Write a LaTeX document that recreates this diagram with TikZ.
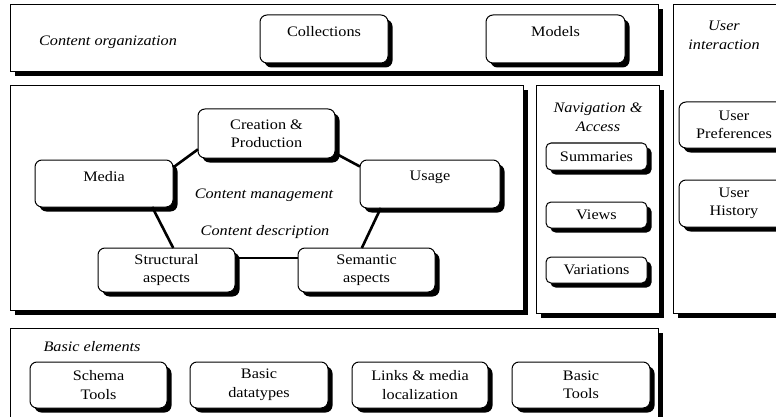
\documentclass[tikz,border=0pt]{standalone}
\usepackage{fontspec}
\setmainfont{Liberation Serif}[FakeStretch=1.12]
\usetikzlibrary{shadows}
\newcommand\dgfont{\fontsize{14.5}{18.5}\selectfont}
\newcommand\dgital{\fontsize{14.5}{19}\selectfont\itshape}
\begin{document}
\begin{tikzpicture}[x=1pt,y=-1pt,
  shad/.style={drop shadow={shadow xshift=4.5pt,shadow yshift=-4.5pt,fill=black,opacity=1}},
  panel/.style={draw,fill=white,line width=1pt,inner sep=0pt,outer sep=0pt,shad},
  rbox/.style={panel,rounded corners=7pt,align=center,font=\dgfont},
  toplbl/.style={label={[anchor=center,yshift=-17pt,font=\dgfont,inner sep=0pt]north:#1}},
  itext/.style={font=\dgital,align=center,inner sep=0pt},
  link/.style={line width=2.6pt}
]
\useasboundingbox (0,0) rectangle (776,417);
\fill[white] (0,0) rectangle (776,417);
\clip (0,0) rectangle (776,417);

% ---- Content organization ----
\node[panel,minimum width=648,minimum height=67] (org) at (334,38.5) {};
\node[itext] (orgt) at (108,42) {Content organization};
\node[rbox,minimum width=128,minimum height=48,toplbl=Collections] (coll) at (324,39) {};
\node[rbox,minimum width=139,minimum height=48,toplbl=Models] (models) at (555.5,39) {};

% ---- User interaction ----
\node[panel,minimum width=120,minimum height=308] (user) at (733,159) {};
\node[itext] (usert) at (724,35.5) {User\\interaction};
\node[rbox,minimum width=110,minimum height=46] (pref) at (734,125) {User\\Preferences};
\node[rbox,minimum width=110,minimum height=47] (hist) at (734,203.5) {User\\History};

% ---- Content management ----
\node[panel,minimum width=513,minimum height=224] (mid) at (266.5,198) {};
\node[itext] (cm) at (264,195) {Content management};
\node[itext] (cd) at (265,232) {Content description};
\node[rbox,minimum width=137,minimum height=49] (creation) at (266.5,133.5) {Creation \&\\Production};
\node[rbox,minimum width=138,minimum height=47,toplbl=Media] (media) at (104,183.5) {};
\node[rbox,minimum width=140,minimum height=48,toplbl=Usage] (usage) at (430,184) {};
\node[rbox,minimum width=137,minimum height=44] (struct) at (166.5,270) {Structural\\aspects};
\node[rbox,minimum width=137,minimum height=44] (sem) at (366.5,270) {Semantic\\aspects};

\draw[link] (media.13) -- (creation.193);
\draw[link] (creation.344) -- (usage.166);
\draw[link] (usage.206) -- (sem.102);
\draw[link] (media.334) -- (struct.73);
\draw[link] (struct.10) -- (sem.170);

% ---- Navigation & Access ----
\node[panel,minimum width=123,minimum height=227] (nav) at (597.5,199.5) {};
\node[itext] (navt) at (598,117) {Navigation \&\\Access};
\node[rbox,rounded corners=5pt,minimum width=101,minimum height=27] (summ) at (596.5,156.5) {Summaries};
\node[rbox,rounded corners=5pt,minimum width=101,minimum height=26] (views) at (596.5,215) {Views};
\node[rbox,rounded corners=5pt,minimum width=101,minimum height=26] (var) at (596.5,270) {Variations};

% ---- Basic elements ----
\node[panel,minimum width=648,minimum height=100] (basic) at (334,378) {};
\node[itext] (basict) at (92,347) {Basic elements};
\node[rbox,minimum width=137,minimum height=46] (schema) at (98.5,385) {Schema\\Tools};
\node[rbox,minimum width=138,minimum height=46] (dtypes) at (259,385) {Basic\\datatypes};
\node[rbox,minimum width=136,minimum height=46] (links) at (420,385) {Links \& media\\localization};
\node[rbox,minimum width=138,minimum height=46] (btools) at (581,385) {Basic\\Tools};
\end{tikzpicture}
\end{document}
